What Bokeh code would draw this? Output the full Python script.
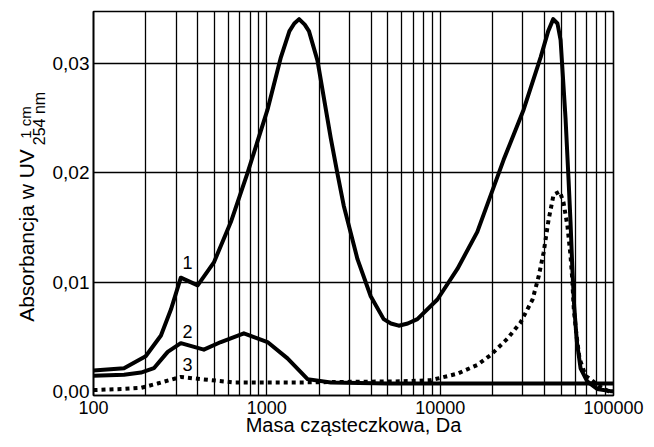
import math
from bokeh.plotting import figure
from bokeh.layouts import row
from bokeh.models import Range1d, FixedTicker, NumeralTickFormatter, CustomJSTickFormatter, Label
from bokeh.core.properties import value
from bokeh.embed import file_html
from bokeh.resources import INLINE

# ---- data ----
c1_mass = [100, 150, 200, 245, 280, 319, 399, 495, 620, 774, 1009, 1205, 1350, 1440, 1535,
           1655, 1750, 1960, 2338, 2550, 2778, 3334, 3975, 4721, 5200, 5765, 6500, 7389, 9638,
           12570, 16380, 23230, 30300, 37970, 42000, 44900, 47500, 49510, 52880, 55000, 56500,
           57800, 59300, 61500, 64560, 70520, 80500, 96100, 100000]
c1_abs = [0.0019, 0.0021, 0.0032, 0.0051, 0.0075, 0.0104, 0.0097, 0.0118, 0.0155, 0.0200,
          0.0258, 0.0306, 0.0330, 0.0337, 0.0341, 0.0336, 0.0330, 0.0303, 0.0232, 0.0200,
          0.0170, 0.0121, 0.0087, 0.0066, 0.0062, 0.0060, 0.0062, 0.0066, 0.0084, 0.0112,
          0.0146, 0.0212, 0.0258, 0.0306, 0.0330, 0.0341, 0.0337, 0.0322, 0.0250, 0.0195,
          0.0155, 0.0115, 0.0078, 0.0045, 0.0021, 0.0009, 0.0002, 0.0000, 0.0000]

c2_mass = [100, 150, 188, 223, 268, 319, 433, 543, 737, 1009, 1316, 1718, 2338, 5000, 20000,
           56000, 100000]
c2_abs = [0.0014, 0.0015, 0.0017, 0.0021, 0.0036, 0.0044, 0.0038, 0.0045, 0.0053, 0.0045,
          0.0030, 0.0011, 0.0008, 0.0007, 0.0007, 0.0007, 0.0007]

c3_mass = [100, 150, 188, 234, 319, 417, 645, 1570, 3000, 6000, 8817, 12570, 16380, 19540,
           24400, 29100, 34120, 36980, 39520, 42210, 45110, 49020, 51470, 54270, 56500, 57800,
           59020, 61180, 63680, 68990, 73650, 82010, 93600, 100000]
c3_abs = [0.0001, 0.0002, 0.0003, 0.0007, 0.0013, 0.0011, 0.0008, 0.0008, 0.00085, 0.0009,
          0.0010, 0.0016, 0.0024, 0.0033, 0.0048, 0.0063, 0.0084, 0.0105, 0.0127, 0.0157,
          0.0180, 0.0183, 0.0173, 0.0151, 0.0124, 0.0103, 0.0075, 0.0051, 0.0030, 0.0014,
          0.0011, 0.0005, 0.0000, 0.0000]

curve_names = ["1", "2", "3"]
curve_label_mass = [349, 349, 349]
curve_label_abs = [0.0118, 0.0055, 0.0024]

x_major = [100, 1000, 10000, 100000]
x_minor = [m * d for d in (100, 1000, 10000) for m in range(2, 10)]
y_ticks = [0.0, 0.01, 0.02, 0.03]
y_grid = [0.01, 0.02, 0.03]

x_title = "Masa cząsteczkowa, Da"
y_title_parts = ["Absorbancja w UV", "1 cm", "254 nm"]

FONT = "Liberation Sans"

X0, X1 = 100, 100000
Y0, Y1 = -0.0004, 0.0348

TOTAL_W, TOTAL_H = 646, 439
LAB_W = 48
BORDER_TOP, BORDER_BOTTOM = 11, 44
FRAME_BOTTOM = TOTAL_H - BORDER_BOTTOM
FRAME_H = TOTAL_H - BORDER_TOP - BORDER_BOTTOM

# ---- main chart ----
y_rng = Range1d(Y0, Y1)
p = figure(width=TOTAL_W - LAB_W, height=TOTAL_H, x_axis_type="log",
           x_range=Range1d(X0, X1), y_range=y_rng,
           output_backend="svg", toolbar_location=None,
           min_border_left=45, min_border_right=33,
           min_border_top=BORDER_TOP, min_border_bottom=BORDER_BOTTOM)
p.background_fill_color = "white"
p.border_fill_color = "white"
p.outline_line_color = "black"
p.outline_line_width = 1.6

for ax in (p.xaxis[0], p.yaxis[0]):
    ax.axis_line_color = "black"
    ax.axis_line_width = 1.6
    ax.major_tick_in = 0
    ax.major_tick_out = 0
    ax.minor_tick_in = 0
    ax.minor_tick_out = 0
    ax.major_label_text_font = FONT
    ax.major_label_text_color = "black"

p.xaxis.ticker = FixedTicker(ticks=x_major, minor_ticks=x_minor)
p.xaxis.formatter = NumeralTickFormatter(format="0")
p.xaxis.major_label_text_font_size = "18px"
p.xaxis.major_label_standoff = 5
p.xaxis.axis_label = x_title
p.xaxis.axis_label_text_font = FONT
p.xaxis.axis_label_text_font_size = "20px"
p.xaxis.axis_label_text_font_style = "normal"
p.xaxis.axis_label_text_color = "black"
p.xaxis.axis_label_standoff = -3

p.yaxis.ticker = FixedTicker(ticks=y_ticks)
p.yaxis.formatter = CustomJSTickFormatter(code="return tick.toFixed(2).replace('.', ',');")
p.yaxis.major_label_text_font_size = "19px"
p.yaxis.major_label_standoff = 4

p.xgrid.ticker = FixedTicker(ticks=x_major, minor_ticks=x_minor)
p.xgrid.grid_line_color = "black"
p.xgrid.grid_line_width = 1.3
p.xgrid.minor_grid_line_color = "black"
p.xgrid.minor_grid_line_width = 1.3
p.ygrid.ticker = FixedTicker(ticks=y_grid)
p.ygrid.grid_line_color = "black"
p.ygrid.grid_line_width = 1.3

p.line(c1_mass, c1_abs, line_color="black", line_width=4, line_join="round")
p.line(c2_mass, c2_abs, line_color="black", line_width=4, line_join="round")
p.line(c3_mass, c3_abs, line_color="black", line_width=4, line_dash="4 4")

for name, xm, ya in zip(curve_names, curve_label_mass, curve_label_abs):
    p.add_layout(Label(x=xm, y=ya, text=name, text_font=FONT, text_font_size="18px",
                       text_align="center", text_baseline="middle", text_color="black"))

# ---- y-axis title panel (main text with stacked superscript / subscript) ----
# shares the y range with the chart (the row aligns both frames)
lab = figure(width=LAB_W, height=TOTAL_H, x_range=Range1d(0, LAB_W), y_range=y_rng,
             output_backend="svg", toolbar_location=None,
             x_axis_location=None, y_axis_location=None,
             min_border=0, min_border_left=0, min_border_right=0,
             min_border_top=BORDER_TOP, min_border_bottom=BORDER_BOTTOM)
lab.outline_line_color = None
lab.xgrid.visible = False
lab.ygrid.visible = False
lab.background_fill_color = "white"
lab.border_fill_color = "white"


def px_to_abs(py):
    return Y0 + (FRAME_BOTTOM - py) / FRAME_H * (Y1 - Y0)


# centre positions of each rotated piece, in pixels from the top-left of the picture
title_px_x = [25.5, 24.5, 38.5]
title_px_y = [235, 122, 118]
title_sizes = ["21px", "15px", "16px"]
for txt, cx, cy, fs in zip(y_title_parts, title_px_x, title_px_y, title_sizes):
    lab.text(x=[cx], y=[px_to_abs(cy)], text=[txt], angle=math.pi / 2,
             text_font=value(FONT), text_font_size=value(fs), text_align="center",
             text_baseline="middle", text_color="black")

layout = row(lab, p)
open("out.html", "w").write(file_html(layout, INLINE))
